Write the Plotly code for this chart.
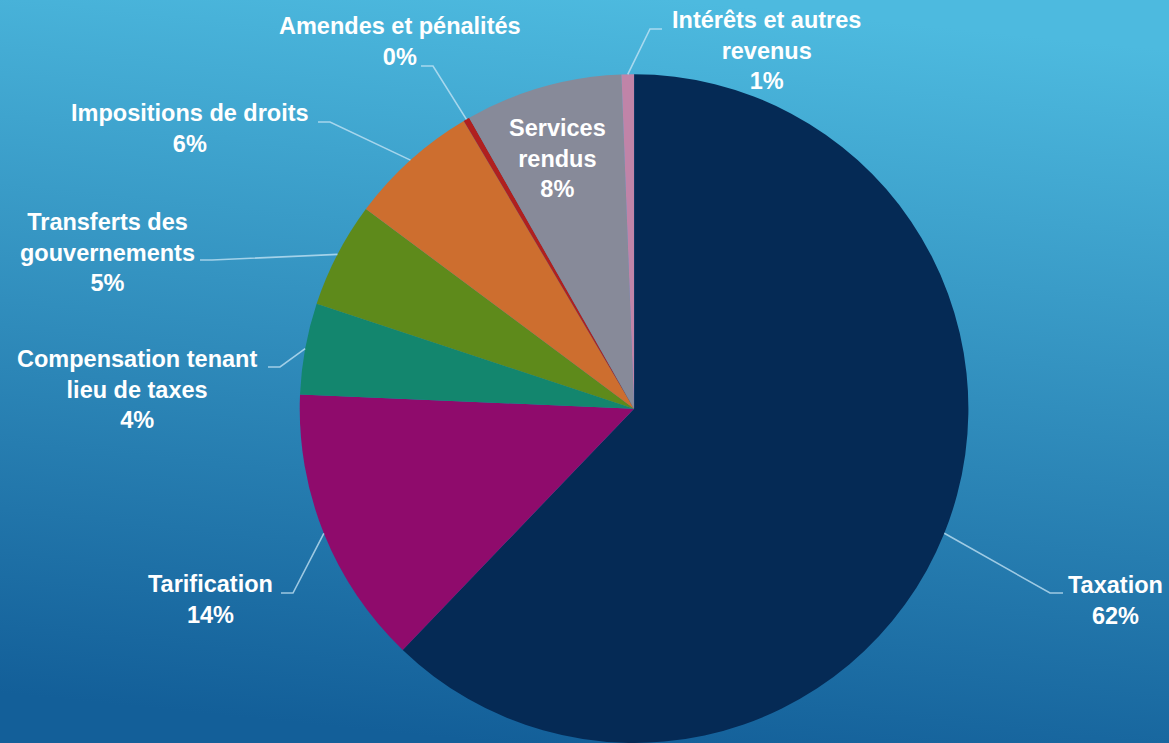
import base64
import math
import plotly.graph_objects as go

# ---- data ----
categories = ["Taxation", "Tarification", "Compensation tenant lieu de taxes",
              "Transferts des gouvernements", "Impositions de droits",
              "Amendes et pénalités", "Services rendus", "Intérêts et autres revenus"]
label_texts = ["Taxation", "Tarification", "Compensation tenant<br>lieu de taxes",
               "Transferts des<br>gouvernements", "Impositions de droits",
               "Amendes et pénalités", "Services<br>rendus", "Intérêts et autres<br>revenus"]
values = [62.1, 13.5, 4.4, 5.1, 6.3, 0.3, 7.6, 0.6]

# ---- styles / layout ----
colors = ["#052a55", "#8f0b6c", "#13866e", "#5e8a1b", "#cd6e2f", "#b0201f", "#878a99", "#c084a8"]
W, H = 1169, 743
dom_x = [0.2564, 0.8284]
dom_y = [0.0, 0.9]
# label block centres (px) and leader elbow / end points (px); None = inside label
label_pos = [(1115, 600), (210, 599), (137, 389), (107, 252), (190, 128), (400, 42), (557, 158), (766, 50)]
leader_pts = [[(1063, 593), (1050, 593)], [(281, 593), (293, 593)], [(268, 367), (280, 367)],
              [(200, 260), (212, 260)], [(318, 122), (330, 122)], [(421, 66), (433, 66)],
              None, [(662, 29), (650, 29)]]
FONT = dict(family="Liberation Sans, Arial", size=23.5, color="white", weight="bold")

total = sum(values)

# pie geometry in px (plotly fits the pie to the smaller domain side)
dw = (dom_x[1] - dom_x[0]) * W
dh = (dom_y[1] - dom_y[0]) * H
R = min(dw, dh) / 2
CX = (dom_x[0] + dom_x[1]) / 2 * W
CY = H - (dom_y[0] + dom_y[1]) / 2 * H


def p2x(x):
    return x / W


def p2y(y):
    return 1 - y / H


fig = go.Figure(go.Pie(
    labels=categories, values=values, sort=False, direction="clockwise", rotation=0,
    marker=dict(colors=colors, line=dict(width=0)),
    textinfo="none", hoverinfo="label+percent",
    domain=dict(x=dom_x, y=dom_y), showlegend=False,
))

annotations = []
shapes = []
cum = 0.0
for i, v in enumerate(values):
    frac = v / total
    mid = (cum + frac / 2) * 2 * math.pi
    cum += frac
    rim = (CX + R * math.sin(mid), CY - R * math.cos(mid))
    lx, ly = label_pos[i]
    annotations.append(dict(
        x=p2x(lx), y=p2y(ly), xref="paper", yref="paper",
        text=f"{label_texts[i]}<br>{frac:.0%}", showarrow=False,
        xanchor="center", yanchor="middle", align="center", font=FONT,
    ))
    if leader_pts[i] is not None:
        pts = leader_pts[i] + [rim]
        path = "M " + " L ".join(f"{p2x(px)},{p2y(py)}" for px, py in pts)
        shapes.append(dict(type="path", path=path, xref="paper", yref="paper",
                           line=dict(color="rgba(200,230,245,0.75)", width=1.6), layer="above"))

svg = f'''<svg xmlns="http://www.w3.org/2000/svg" width="{W}" height="{H}" viewBox="0 0 {W} {H}" preserveAspectRatio="none">
<defs><linearGradient id="g" x1="0.58" y1="0" x2="0.42" y2="1">
<stop offset="0" stop-color="#4dbadf"/><stop offset="1" stop-color="#135f99"/></linearGradient></defs>
<rect width="{W}" height="{H}" fill="url(#g)"/></svg>'''
bg = "data:image/svg+xml;base64," + base64.b64encode(svg.encode()).decode()

fig.update_layout(
    width=W, height=H, margin=dict(l=0, r=0, t=0, b=0),
    paper_bgcolor="#2f8fbf", plot_bgcolor="rgba(0,0,0,0)",
    annotations=annotations, shapes=shapes,
    images=[dict(source=bg, xref="paper", yref="paper", x=0, y=1, sizex=1, sizey=1,
                 xanchor="left", yanchor="top", sizing="stretch", layer="below")],
)
fig.write_html("out.html", config={"displayModeBar": False},
               post_script="document.body.style.margin='0';document.body.style.overflow='hidden';")
